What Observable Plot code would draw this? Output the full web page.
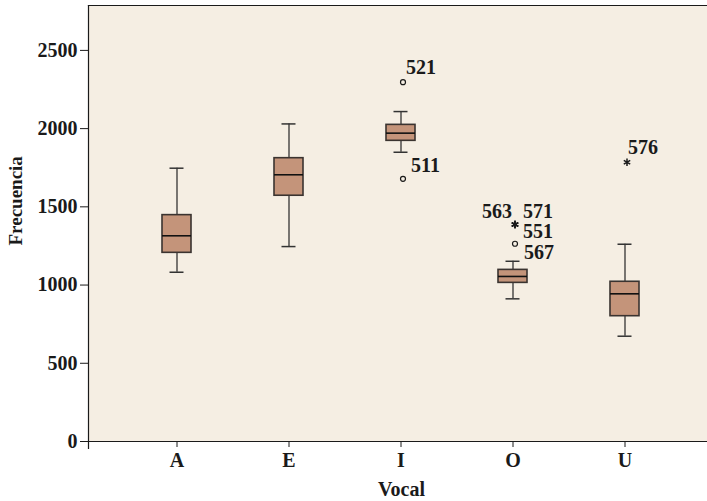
<!DOCTYPE html>
<html>
<head>
<meta charset="utf-8">
<script src="https://cdn.jsdelivr.net/npm/d3@7"></script>
<script src="https://cdn.jsdelivr.net/npm/@observablehq/plot@0.6"></script>
<style>
  body { margin: 0; background: #ffffff; }
  #chart svg { display: block; }
</style>
</head>
<body>
<div id="chart"></div>
<script>
// Five-number summaries of the frequency per vowel
const vowels      = ["A", "E", "I", "O", "U"];
const whiskerLow  = [1082, 1246, 1849, 912, 673];
const quartile1   = [1206, 1571, 1922, 1014, 801];
const medians     = [1315, 1705, 1971, 1055, 944];
const quartile3   = [1447, 1811, 2024, 1097, 1021];
const whiskerHigh = [1747, 2030, 2109, 1152, 1261];

// Cases outside the whiskers (circle = outlier, asterisk = extreme)
const outlierVowel = ["I", "I", "O", "O", "O", "O", "U"];
const outlierValue = [2297, 1679, 1387, 1387, 1387, 1264, 1785];
const outlierKind  = ["circle", "circle", "asterisk", "asterisk", "asterisk", "circle", "asterisk"];
const outlierCase  = ["521", "511", "563", "571", "551", "567", "576"];

const yTicks = [0, 500, 1000, 1500, 2000, 2500];

const boxes = vowels.map((v, i) => ({
  vowel: v, lo: whiskerLow[i], q1: quartile1[i], med: medians[i], q3: quartile3[i], hi: whiskerHigh[i]
}));
const outliers = outlierVowel.map((v, i) => ({
  vowel: v, value: outlierValue[i], kind: outlierKind[i], id: outlierCase[i]
}));

// where each case number sits relative to its point
const labelPlacement = {
  "521": {dx: 5,  dy: -15, anchor: "start"},
  "511": {dx: 10, dy: -13, anchor: "start"},
  "563": {dx: -1, dy: -13, anchor: "end"},
  "571": {dx: 10, dy: -13, anchor: "start"},
  "551": {dx: 10, dy: 7,   anchor: "start"},
  "567": {dx: 11, dy: 9,   anchor: "start"},
  "576": {dx: 3,  dy: -15, anchor: "start"}
};

const ink = "#1a1a1a";

const labelMarks = outliers.map(o => {
  const p = labelPlacement[o.id];
  return Plot.text([o], {
    x: "vowel", y: "value", text: "id",
    dx: p.dx, dy: p.dy, textAnchor: p.anchor,
    fill: ink, fontSize: 20
  });
});

const chart = Plot.plot({
  width: 707,
  height: 501,
  marginLeft: 88,
  marginRight: 0,
  marginTop: 5,
  marginBottom: 60,
  style: {
    fontFamily: "'Liberation Serif', 'DejaVu Serif', serif",
    fontSize: "20px",
    fontWeight: "bold",
    background: "#ffffff",
    color: ink
  },
  x: {
    type: "band",
    domain: vowels,
    range: [88, 713],
    paddingInner: 0.7416,
    paddingOuter: 0.6548,
    align: 0.5,
    label: null
  },
  y: {domain: [0, 2787], label: null},
  marks: [
    Plot.frame({fill: "#F5EEE3", stroke: null}),
    Plot.frame({anchor: "top", stroke: ink, strokeWidth: 1.2}),
    Plot.frame({anchor: "left", stroke: ink, strokeWidth: 1.2, insetBottom: -7}),
    Plot.frame({anchor: "bottom", stroke: ink, strokeWidth: 1.2}),
    Plot.axisY({ticks: yTicks, tickFormat: d => String(d), tickSize: 8, tickPadding: 3, label: null, stroke: ink, fontSize: 20}),
    Plot.axisX({tickSize: 6, tickPadding: 5, label: null, stroke: ink, fontSize: 20}),

    // whiskers and caps
    Plot.ruleX(boxes, {x: "vowel", y1: "lo", y2: "hi", stroke: "#333", strokeWidth: 1.3}),
    Plot.tickY(boxes, {x: "vowel", y: "lo", insetLeft: 7.5, insetRight: 7.5, stroke: "#333", strokeWidth: 1.5}),
    Plot.tickY(boxes, {x: "vowel", y: "hi", insetLeft: 7.5, insetRight: 7.5, stroke: "#333", strokeWidth: 1.5}),

    // interquartile boxes and medians
    Plot.barY(boxes, {x: "vowel", y1: "q1", y2: "q3", fill: "#C4947A", stroke: "#3a3330", strokeWidth: 1.6}),
    Plot.tickY(boxes, {x: "vowel", y: "med", stroke: "#111", strokeWidth: 1.6}),

    // outliers and extremes
    Plot.dot(outliers.filter(d => d.kind === "circle"),
      {x: "vowel", y: "value", r: 2.5, dx: 2, stroke: ink, strokeWidth: 1.2, fill: "none"}),
    Plot.dot(outliers.filter(d => d.kind === "asterisk"),
      {x: "vowel", y: "value", symbol: "asterisk", r: 3.5, dx: 2, stroke: ink, strokeWidth: 1.5}),
    ...labelMarks,

    // axis titles
    Plot.text(["Frecuencia"], {frameAnchor: "left", dx: -73, dy: 22, rotate: -90, fill: ink, fontSize: 19}),
    Plot.text(["Vocal"], {frameAnchor: "bottom", dx: 3.5, dy: 54, fill: ink, fontSize: 20})
  ]
});

document.getElementById("chart").appendChild(chart);
</script>
</body>
</html>
